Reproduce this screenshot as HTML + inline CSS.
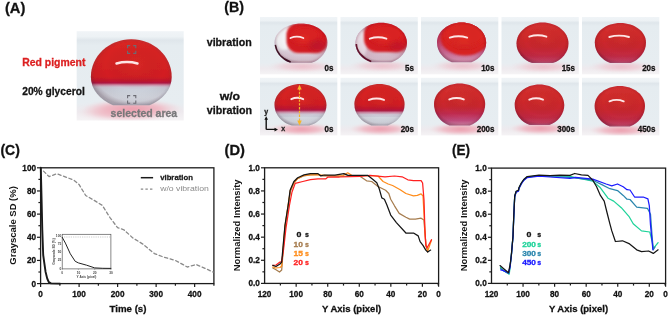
<!DOCTYPE html>
<html><head><meta charset="utf-8"><title>figure</title>
<style>
html,body{margin:0;padding:0;background:#fff;width:669px;height:316px;overflow:hidden;}
svg{display:block;will-change:transform;}
text{font-family:"Liberation Sans", sans-serif;}
</style></head>
<body>
<svg width="669" height="316" viewBox="0 0 669 316">
<defs>

<filter id="soft" x="-10%" y="-10%" width="120%" height="120%"><feGaussianBlur stdDeviation="0.45"/></filter>
<filter id="blur1" x="-30%" y="-30%" width="160%" height="160%"><feGaussianBlur stdDeviation="1.2"/></filter>
<filter id="blur2" x="-50%" y="-50%" width="200%" height="200%"><feGaussianBlur stdDeviation="2.2"/></filter>
<filter id="blur3" x="-50%" y="-50%" width="200%" height="200%"><feGaussianBlur stdDeviation="3.5"/></filter>
<linearGradient id="bgG" x1="0" y1="0" x2="0" y2="1">
 <stop offset="0" stop-color="#f0f4f7"/>
 <stop offset="0.06" stop-color="#edf2f5"/>
 <stop offset="0.1" stop-color="#dfe6eb"/>
 <stop offset="0.16" stop-color="#e5ecf0"/>
 <stop offset="0.8" stop-color="#e7edf1"/>
 <stop offset="0.9" stop-color="#eeeaee"/>
 <stop offset="1" stop-color="#f5f3f5"/>
</linearGradient>
<radialGradient id="pinkRef" cx="0.5" cy="0.5" r="0.5">
 <stop offset="0" stop-color="#ec9cac" stop-opacity="1"/>
 <stop offset="0.55" stop-color="#efb6c2" stop-opacity="0.85"/>
 <stop offset="1" stop-color="#f2d0d6" stop-opacity="0"/>
</radialGradient>
<radialGradient id="shadeG" cx="0.55" cy="0.4" r="0.6">
 <stop offset="0" stop-color="#ff6040" stop-opacity="0.12"/>
 <stop offset="0.6" stop-color="#000" stop-opacity="0"/>
 <stop offset="0.88" stop-color="#400818" stop-opacity="0.06"/>
 <stop offset="1" stop-color="#300818" stop-opacity="0.25"/>
</radialGradient>

</defs>
<clipPath id="t0"><rect x="260" y="17" width="77.3" height="57.3"/></clipPath>
<rect x="260" y="17" width="77.3" height="57.3" fill="url(#bgG)"/>
<clipPath id="t0e"><path d="M274.50,42.50 C274.50,32.01 286.36,23.50 301.00,23.50 C315.64,23.50 327.50,32.01 327.50,42.50 A26.50,22.15 0 0 1 311.60,62.80 L290.40,62.80 A26.50,22.15 0 0 1 274.50,42.50 Z"/></clipPath>
<g clip-path="url(#t0)"><ellipse cx="302" cy="66.39999999999999" rx="33.125" ry="5.895" fill="url(#pinkRef)" filter="url(#blur1)" opacity="0.55"/></g>
<defs><linearGradient id="t0g" gradientUnits="userSpaceOnUse" x1="0" y1="23.5" x2="0" y2="62.8"><stop offset="0.0000" stop-color="#e6e6ec"/><stop offset="0.5000" stop-color="#e2e0e8"/><stop offset="0.8000" stop-color="#dccbd8"/><stop offset="1.0000" stop-color="#d8c4d2"/></linearGradient></defs>
<g filter="url(#soft)">
<g clip-path="url(#t0e)">
<rect x="273.5" y="22.5" width="55.0" height="41.3" fill="url(#t0g)"/>
<ellipse cx="284" cy="37" rx="8.5" ry="13" fill="#f4f4f7" filter="url(#blur1)"/><rect x="286.5" y="23" width="41" height="30" rx="12" fill="#d61e22" filter="url(#blur1)"/><ellipse cx="305" cy="35" rx="15" ry="9" fill="#de2420" filter="url(#blur2)"/><ellipse cx="318" cy="46" rx="9" ry="6" fill="#b81830" opacity="0.6" filter="url(#blur2)"/><path d="M274.5,45 A26.5,22.15 0 0 0 290.4,62.8" fill="none" stroke="#3a1828" stroke-width="3.2" filter="url(#soft)"/>
<rect x="273.5" y="22.5" width="55.0" height="41.3" fill="url(#shadeG)"/>
<path d="M274.50,42.50 C274.50,32.01 286.36,23.50 301.00,23.50 C315.64,23.50 327.50,32.01 327.50,42.50 A26.50,22.15 0 0 1 311.60,62.80 L290.40,62.80 A26.50,22.15 0 0 1 274.50,42.50 Z" fill="none" stroke="#5a0c22" stroke-opacity="0.2" stroke-width="2.4" filter="url(#blur1)"/>
</g>
<path d="M290.5,38.0 Q296.9,35.2 303.3,38.0" fill="none" stroke="#fff0f0" stroke-width="1.9" stroke-linecap="round" opacity="0.95"/>
</g>
<text x="333.5" y="70.7" font-size="8.8" font-weight="bold" fill="#111" text-anchor="end" textLength="8.9" lengthAdjust="spacingAndGlyphs" stroke="#111" stroke-width="0.28">0s</text>
<clipPath id="t1"><rect x="340.5" y="17" width="77.3" height="57.3"/></clipPath>
<rect x="340.5" y="17" width="77.3" height="57.3" fill="url(#bgG)"/>
<clipPath id="t1e"><path d="M355.40,43.00 C355.40,31.79 366.95,22.70 381.20,22.70 C395.45,22.70 407.00,31.79 407.00,43.00 A25.80,21.06 0 0 1 391.52,62.30 L370.88,62.30 A25.80,21.06 0 0 1 355.40,43.00 Z"/></clipPath>
<g clip-path="url(#t1)"><ellipse cx="382.2" cy="65.89999999999999" rx="32.25" ry="5.939999999999999" fill="url(#pinkRef)" filter="url(#blur1)" opacity="0.55"/></g>
<defs><linearGradient id="t1g" gradientUnits="userSpaceOnUse" x1="0" y1="22.7" x2="0" y2="62.3"><stop offset="0.0000" stop-color="#d8c8d4"/><stop offset="0.5000" stop-color="#d4b4c6"/><stop offset="0.8000" stop-color="#d8bccc"/><stop offset="1.0000" stop-color="#dcc6d4"/></linearGradient></defs>
<g filter="url(#soft)">
<g clip-path="url(#t1e)">
<rect x="354.4" y="21.7" width="53.6" height="41.599999999999994" fill="url(#t1g)"/>
<ellipse cx="361" cy="44" rx="6" ry="14" fill="#ecdfe8" filter="url(#blur1)"/><rect x="364" y="21" width="45" height="31" rx="13" fill="#d61e22" filter="url(#blur1)"/><ellipse cx="386" cy="34" rx="17" ry="10" fill="#de2420" filter="url(#blur2)"/><ellipse cx="398" cy="47" rx="9" ry="5" fill="#b81830" opacity="0.5" filter="url(#blur2)"/><path d="M355.4,44 A25.8,21.06 0 0 0 370.9,62.3" fill="none" stroke="#6a1830" stroke-width="3.4" filter="url(#soft)"/>
<rect x="354.4" y="21.7" width="53.6" height="41.599999999999994" fill="url(#shadeG)"/>
<path d="M355.40,43.00 C355.40,31.79 366.95,22.70 381.20,22.70 C395.45,22.70 407.00,31.79 407.00,43.00 A25.80,21.06 0 0 1 391.52,62.30 L370.88,62.30 A25.80,21.06 0 0 1 355.40,43.00 Z" fill="none" stroke="#5a0c22" stroke-opacity="0.2" stroke-width="2.4" filter="url(#blur1)"/>
</g>
<path d="M369.8,38.699999999999996 Q378.1,35.9 386.4,38.699999999999996" fill="none" stroke="#fff0f0" stroke-width="1.9" stroke-linecap="round" opacity="0.95"/>
</g>
<text x="414.0" y="70.7" font-size="8.8" font-weight="bold" fill="#111" text-anchor="end" textLength="8.9" lengthAdjust="spacingAndGlyphs" stroke="#111" stroke-width="0.28">5s</text>
<clipPath id="t2"><rect x="421" y="17" width="77.3" height="57.3"/></clipPath>
<rect x="421" y="17" width="77.3" height="57.3" fill="url(#bgG)"/>
<clipPath id="t2e"><path d="M437.00,42.50 C437.00,31.40 448.01,22.40 461.60,22.40 C475.19,22.40 486.20,31.40 486.20,42.50 A24.60,21.60 0 0 1 471.44,62.30 L451.76,62.30 A24.60,21.60 0 0 1 437.00,42.50 Z"/></clipPath>
<g clip-path="url(#t2)"><ellipse cx="462.6" cy="65.89999999999999" rx="30.75" ry="5.984999999999999" fill="url(#pinkRef)" filter="url(#blur1)" opacity="0.55"/></g>
<defs><linearGradient id="t2g" gradientUnits="userSpaceOnUse" x1="0" y1="22.4" x2="0" y2="62.3"><stop offset="0.0000" stop-color="#d43040"/><stop offset="0.4500" stop-color="#c84068"/><stop offset="0.7500" stop-color="#cc6a94"/><stop offset="1.0000" stop-color="#dc9cbc"/></linearGradient></defs>
<g filter="url(#soft)">
<g clip-path="url(#t2e)">
<rect x="436.0" y="21.4" width="51.2" height="41.9" fill="url(#t2g)"/>
<ellipse cx="465" cy="38" rx="24.5" ry="17.5" fill="#d82024" filter="url(#blur1)"/>
<ellipse cx="465" cy="34.5" rx="19.6" ry="12.25" fill="#de2622" filter="url(#blur2)"/>

<rect x="436.0" y="21.4" width="51.2" height="41.9" fill="url(#shadeG)"/>
<path d="M437.00,42.50 C437.00,31.40 448.01,22.40 461.60,22.40 C475.19,22.40 486.20,31.40 486.20,42.50 A24.60,21.60 0 0 1 471.44,62.30 L451.76,62.30 A24.60,21.60 0 0 1 437.00,42.50 Z" fill="none" stroke="#5a0c22" stroke-opacity="0.2" stroke-width="2.4" filter="url(#blur1)"/>
</g>
<path d="M449.8,37.6 Q458.5,34.800000000000004 467.2,37.6" fill="none" stroke="#fff0f0" stroke-width="1.9" stroke-linecap="round" opacity="0.95"/>
</g>
<text x="494.5" y="70.7" font-size="8.8" font-weight="bold" fill="#111" text-anchor="end" textLength="13.350000000000001" lengthAdjust="spacingAndGlyphs" stroke="#111" stroke-width="0.28">10s</text>
<clipPath id="t3"><rect x="501.5" y="17" width="77.3" height="57.3"/></clipPath>
<rect x="501.5" y="17" width="77.3" height="57.3" fill="url(#bgG)"/>
<clipPath id="t3e"><path d="M516.50,43.50 C516.50,31.90 528.14,22.50 542.50,22.50 C556.86,22.50 568.50,31.90 568.50,43.50 A26.00,21.39 0 0 1 552.90,63.10 L532.10,63.10 A26.00,21.39 0 0 1 516.50,43.50 Z"/></clipPath>
<g clip-path="url(#t3)"><ellipse cx="543.5" cy="66.7" rx="32.5" ry="6.09" fill="url(#pinkRef)" filter="url(#blur1)" opacity="0.55"/></g>
<defs><linearGradient id="t3g" gradientUnits="userSpaceOnUse" x1="0" y1="22.5" x2="0" y2="63.1"><stop offset="0.0000" stop-color="#d63232"/><stop offset="0.3000" stop-color="#d02a2a"/><stop offset="0.6000" stop-color="#c8262e"/><stop offset="0.8200" stop-color="#c22a44"/><stop offset="0.9500" stop-color="#c64064"/><stop offset="1.0000" stop-color="#d06e90"/></linearGradient></defs>
<g filter="url(#soft)">
<g clip-path="url(#t3e)">
<rect x="515.5" y="21.5" width="54" height="42.6" fill="url(#t3g)"/>

<rect x="515.5" y="21.5" width="54" height="42.6" fill="url(#shadeG)"/>
<path d="M516.50,43.50 C516.50,31.90 528.14,22.50 542.50,22.50 C556.86,22.50 568.50,31.90 568.50,43.50 A26.00,21.39 0 0 1 552.90,63.10 L532.10,63.10 A26.00,21.39 0 0 1 516.50,43.50 Z" fill="none" stroke="#5a0c22" stroke-opacity="0.2" stroke-width="2.4" filter="url(#blur1)"/>
</g>
<path d="M529.3,36.699999999999996 Q537.8499999999999,33.9 546.4,36.699999999999996" fill="none" stroke="#fff0f0" stroke-width="1.9" stroke-linecap="round" opacity="0.95"/>
</g>
<text x="575.0" y="70.7" font-size="8.8" font-weight="bold" fill="#111" text-anchor="end" textLength="13.350000000000001" lengthAdjust="spacingAndGlyphs" stroke="#111" stroke-width="0.28">15s</text>
<clipPath id="t4"><rect x="582" y="17" width="77.3" height="57.3"/></clipPath>
<rect x="582" y="17" width="77.3" height="57.3" fill="url(#bgG)"/>
<clipPath id="t4e"><path d="M594.80,42.50 C594.80,31.73 606.26,23.00 620.40,23.00 C634.54,23.00 646.00,31.73 646.00,42.50 A25.60,22.48 0 0 1 630.64,63.10 L610.16,63.10 A25.60,22.48 0 0 1 594.80,42.50 Z"/></clipPath>
<g clip-path="url(#t4)"><ellipse cx="621.4" cy="66.7" rx="32.0" ry="6.015" fill="url(#pinkRef)" filter="url(#blur1)" opacity="0.55"/></g>
<defs><linearGradient id="t4g" gradientUnits="userSpaceOnUse" x1="0" y1="23" x2="0" y2="63.1"><stop offset="0.0000" stop-color="#d63232"/><stop offset="0.3000" stop-color="#d02a2a"/><stop offset="0.6000" stop-color="#c8262e"/><stop offset="0.8200" stop-color="#c22a44"/><stop offset="0.9500" stop-color="#c64064"/><stop offset="1.0000" stop-color="#d06e90"/></linearGradient></defs>
<g filter="url(#soft)">
<g clip-path="url(#t4e)">
<rect x="593.8" y="22" width="53.2" height="42.1" fill="url(#t4g)"/>

<rect x="593.8" y="22" width="53.2" height="42.1" fill="url(#shadeG)"/>
<path d="M594.80,42.50 C594.80,31.73 606.26,23.00 620.40,23.00 C634.54,23.00 646.00,31.73 646.00,42.50 A25.60,22.48 0 0 1 630.64,63.10 L610.16,63.10 A25.60,22.48 0 0 1 594.80,42.50 Z" fill="none" stroke="#5a0c22" stroke-opacity="0.2" stroke-width="2.4" filter="url(#blur1)"/>
</g>
<path d="M609.3,37.0 Q619.15,34.2 629,37.0" fill="none" stroke="#fff0f0" stroke-width="1.9" stroke-linecap="round" opacity="0.95"/>
</g>
<text x="655.5" y="70.7" font-size="8.8" font-weight="bold" fill="#111" text-anchor="end" textLength="13.350000000000001" lengthAdjust="spacingAndGlyphs" stroke="#111" stroke-width="0.28">20s</text>
<clipPath id="t5"><rect x="260" y="77.8" width="77.3" height="57.6"/></clipPath>
<rect x="260" y="77.8" width="77.3" height="57.6" fill="url(#bgG)"/>
<clipPath id="t5e"><path d="M274.50,105.00 C274.50,93.46 286.14,84.10 300.50,84.10 C314.86,84.10 326.50,93.46 326.50,105.00 A26.00,21.82 0 0 1 309.08,125.60 L291.92,125.60 A26.00,21.82 0 0 1 274.50,105.00 Z"/></clipPath>
<g clip-path="url(#t5)"><ellipse cx="301.5" cy="129.2" rx="32.5" ry="6.225" fill="url(#pinkRef)" filter="url(#blur1)" opacity="1.0"/></g>
<defs><linearGradient id="t5g" gradientUnits="userSpaceOnUse" x1="0" y1="84.1" x2="0" y2="125.6"><stop offset="0.0000" stop-color="#da2624"/><stop offset="0.4704" stop-color="#d21e22"/><stop offset="0.5789" stop-color="#c0162e"/><stop offset="0.6270" stop-color="#b01a44"/><stop offset="0.6752" stop-color="#cc8aa4"/><stop offset="0.7234" stop-color="#cdc6d4"/><stop offset="0.7837" stop-color="#cbd0da"/><stop offset="0.8072" stop-color="#d5dae2"/><stop offset="1.0000" stop-color="#d2d7e0"/></linearGradient></defs>
<g filter="url(#soft)">
<g clip-path="url(#t5e)">
<rect x="273.5" y="83.1" width="54" height="43.5" fill="url(#t5g)"/>

<rect x="273.5" y="83.1" width="54" height="43.5" fill="url(#shadeG)"/>
<path d="M274.50,105.00 C274.50,93.46 286.14,84.10 300.50,84.10 C314.86,84.10 326.50,93.46 326.50,105.00 A26.00,21.82 0 0 1 309.08,125.60 L291.92,125.60 A26.00,21.82 0 0 1 274.50,105.00 Z" fill="none" stroke="#50505e" stroke-opacity="0.2" stroke-width="2.4" filter="url(#blur1)"/>
</g>
<path d="M291.3,99.2 Q297.25,96.39999999999999 303.2,99.2" fill="none" stroke="#fff0f0" stroke-width="1.9" stroke-linecap="round" opacity="0.95"/>
</g>
<text x="333.5" y="131.8" font-size="8.8" font-weight="bold" fill="#111" text-anchor="end" textLength="8.9" lengthAdjust="spacingAndGlyphs" stroke="#111" stroke-width="0.28">0s</text>
<clipPath id="t6"><rect x="340.5" y="77.8" width="77.3" height="57.6"/></clipPath>
<rect x="340.5" y="77.8" width="77.3" height="57.6" fill="url(#bgG)"/>
<clipPath id="t6e"><path d="M354.40,104.00 C354.40,92.95 365.64,84.00 379.50,84.00 C393.36,84.00 404.60,92.95 404.60,104.00 A25.10,22.67 0 0 1 387.78,125.40 L371.22,125.40 A25.10,22.67 0 0 1 354.40,104.00 Z"/></clipPath>
<g clip-path="url(#t6)"><ellipse cx="380.5" cy="129.0" rx="31.375" ry="6.210000000000001" fill="url(#pinkRef)" filter="url(#blur1)" opacity="1.0"/></g>
<defs><linearGradient id="t6g" gradientUnits="userSpaceOnUse" x1="0" y1="84" x2="0" y2="125.4"><stop offset="0.0000" stop-color="#da2624"/><stop offset="0.4851" stop-color="#d21e22"/><stop offset="0.5938" stop-color="#c0162e"/><stop offset="0.6421" stop-color="#b01a44"/><stop offset="0.6904" stop-color="#cc8aa4"/><stop offset="0.7387" stop-color="#cdc6d4"/><stop offset="0.7991" stop-color="#cbd0da"/><stop offset="0.8068" stop-color="#d5dae2"/><stop offset="1.0000" stop-color="#d2d7e0"/></linearGradient></defs>
<g filter="url(#soft)">
<g clip-path="url(#t6e)">
<rect x="353.4" y="83" width="52.2" height="43.400000000000006" fill="url(#t6g)"/>

<rect x="353.4" y="83" width="52.2" height="43.400000000000006" fill="url(#shadeG)"/>
<path d="M354.40,104.00 C354.40,92.95 365.64,84.00 379.50,84.00 C393.36,84.00 404.60,92.95 404.60,104.00 A25.10,22.67 0 0 1 387.78,125.40 L371.22,125.40 A25.10,22.67 0 0 1 354.40,104.00 Z" fill="none" stroke="#50505e" stroke-opacity="0.2" stroke-width="2.4" filter="url(#blur1)"/>
</g>
<path d="M369,99.9 Q376.5,97.1 384,99.9" fill="none" stroke="#fff0f0" stroke-width="1.9" stroke-linecap="round" opacity="0.95"/>
</g>
<text x="414.0" y="131.8" font-size="8.8" font-weight="bold" fill="#111" text-anchor="end" textLength="13.350000000000001" lengthAdjust="spacingAndGlyphs" stroke="#111" stroke-width="0.28">20s</text>
<clipPath id="t7"><rect x="421" y="77.8" width="77.3" height="57.6"/></clipPath>
<rect x="421" y="77.8" width="77.3" height="57.6" fill="url(#bgG)"/>
<clipPath id="t7e"><path d="M434.00,104.00 C434.00,92.68 445.46,83.50 459.60,83.50 C473.74,83.50 485.20,92.68 485.20,104.00 A25.60,23.57 0 0 1 469.84,125.60 L449.36,125.60 A25.60,23.57 0 0 1 434.00,104.00 Z"/></clipPath>
<g clip-path="url(#t7)"><ellipse cx="460.6" cy="129.2" rx="32.0" ry="6.314999999999999" fill="url(#pinkRef)" filter="url(#blur1)" opacity="1.0"/></g>
<defs><linearGradient id="t7g" gradientUnits="userSpaceOnUse" x1="0" y1="83.5" x2="0" y2="125.6"><stop offset="0.0000" stop-color="#d63232"/><stop offset="0.3000" stop-color="#d02a2a"/><stop offset="0.5500" stop-color="#c8262e"/><stop offset="0.7200" stop-color="#c02c50"/><stop offset="0.8800" stop-color="#c44e80"/><stop offset="1.0000" stop-color="#d68cb0"/></linearGradient></defs>
<g filter="url(#soft)">
<g clip-path="url(#t7e)">
<rect x="433.0" y="82.5" width="53.2" height="44.099999999999994" fill="url(#t7g)"/>

<rect x="433.0" y="82.5" width="53.2" height="44.099999999999994" fill="url(#shadeG)"/>
<path d="M434.00,104.00 C434.00,92.68 445.46,83.50 459.60,83.50 C473.74,83.50 485.20,92.68 485.20,104.00 A25.60,23.57 0 0 1 469.84,125.60 L449.36,125.60 A25.60,23.57 0 0 1 434.00,104.00 Z" fill="none" stroke="#5a0c22" stroke-opacity="0.2" stroke-width="2.4" filter="url(#blur1)"/>
</g>
<path d="M449.3,99.4 Q456.55,96.6 463.8,99.4" fill="none" stroke="#fff0f0" stroke-width="1.9" stroke-linecap="round" opacity="0.95"/>
</g>
<text x="494.5" y="131.8" font-size="8.8" font-weight="bold" fill="#111" text-anchor="end" textLength="17.8" lengthAdjust="spacingAndGlyphs" stroke="#111" stroke-width="0.28">200s</text>
<clipPath id="t8"><rect x="501.5" y="77.8" width="77.3" height="57.6"/></clipPath>
<rect x="501.5" y="77.8" width="77.3" height="57.6" fill="url(#bgG)"/>
<clipPath id="t8e"><path d="M514.70,105.00 C514.70,93.68 525.80,84.50 539.50,84.50 C553.20,84.50 564.30,93.68 564.30,105.00 A24.80,21.71 0 0 1 549.42,124.90 L529.58,124.90 A24.80,21.71 0 0 1 514.70,105.00 Z"/></clipPath>
<g clip-path="url(#t8)"><ellipse cx="540.5" cy="128.5" rx="31.0" ry="6.0600000000000005" fill="url(#pinkRef)" filter="url(#blur1)" opacity="1.0"/></g>
<defs><linearGradient id="t8g" gradientUnits="userSpaceOnUse" x1="0" y1="84.5" x2="0" y2="124.9"><stop offset="0.0000" stop-color="#d63232"/><stop offset="0.3000" stop-color="#d02a2a"/><stop offset="0.6000" stop-color="#c8262e"/><stop offset="0.8200" stop-color="#c22a44"/><stop offset="0.9500" stop-color="#c64064"/><stop offset="1.0000" stop-color="#d06e90"/></linearGradient></defs>
<g filter="url(#soft)">
<g clip-path="url(#t8e)">
<rect x="513.7" y="83.5" width="51.6" height="42.400000000000006" fill="url(#t8g)"/>

<rect x="513.7" y="83.5" width="51.6" height="42.400000000000006" fill="url(#shadeG)"/>
<path d="M514.70,105.00 C514.70,93.68 525.80,84.50 539.50,84.50 C553.20,84.50 564.30,93.68 564.30,105.00 A24.80,21.71 0 0 1 549.42,124.90 L529.58,124.90 A24.80,21.71 0 0 1 514.70,105.00 Z" fill="none" stroke="#5a0c22" stroke-opacity="0.2" stroke-width="2.4" filter="url(#blur1)"/>
</g>
<path d="M529.3,99.7 Q536.15,96.89999999999999 543,99.7" fill="none" stroke="#fff0f0" stroke-width="1.9" stroke-linecap="round" opacity="0.95"/>
</g>
<text x="575.0" y="131.8" font-size="8.8" font-weight="bold" fill="#111" text-anchor="end" textLength="17.8" lengthAdjust="spacingAndGlyphs" stroke="#111" stroke-width="0.28">300s</text>
<clipPath id="t9"><rect x="582" y="77.8" width="77.3" height="57.6"/></clipPath>
<rect x="582" y="77.8" width="77.3" height="57.6" fill="url(#bgG)"/>
<clipPath id="t9e"><path d="M594.60,106.00 C594.60,94.90 605.88,85.90 619.80,85.90 C633.72,85.90 645.00,94.90 645.00,106.00 A25.20,22.48 0 0 1 629.88,126.60 L609.72,126.60 A25.20,22.48 0 0 1 594.60,106.00 Z"/></clipPath>
<g clip-path="url(#t9)"><ellipse cx="620.8" cy="130.2" rx="31.5" ry="6.104999999999998" fill="url(#pinkRef)" filter="url(#blur1)" opacity="1.0"/></g>
<defs><linearGradient id="t9g" gradientUnits="userSpaceOnUse" x1="0" y1="85.9" x2="0" y2="126.6"><stop offset="0.0000" stop-color="#d63232"/><stop offset="0.3000" stop-color="#d02a2a"/><stop offset="0.6000" stop-color="#c8262e"/><stop offset="0.8200" stop-color="#c22a44"/><stop offset="0.9500" stop-color="#c64064"/><stop offset="1.0000" stop-color="#d06e90"/></linearGradient></defs>
<g filter="url(#soft)">
<g clip-path="url(#t9e)">
<rect x="593.5999999999999" y="84.9" width="52.4" height="42.69999999999999" fill="url(#t9g)"/>

<rect x="593.5999999999999" y="84.9" width="52.4" height="42.69999999999999" fill="url(#shadeG)"/>
<path d="M594.60,106.00 C594.60,94.90 605.88,85.90 619.80,85.90 C633.72,85.90 645.00,94.90 645.00,106.00 A25.20,22.48 0 0 1 629.88,126.60 L609.72,126.60 A25.20,22.48 0 0 1 594.60,106.00 Z" fill="none" stroke="#5a0c22" stroke-opacity="0.2" stroke-width="2.4" filter="url(#blur1)"/>
</g>
<path d="M609.5,101.30000000000001 Q616.6,98.5 623.7,101.30000000000001" fill="none" stroke="#fff0f0" stroke-width="1.9" stroke-linecap="round" opacity="0.95"/>
</g>
<text x="655.5" y="131.8" font-size="8.8" font-weight="bold" fill="#111" text-anchor="end" textLength="17.8" lengthAdjust="spacingAndGlyphs" stroke="#111" stroke-width="0.28">450s</text>
<clipPath id="tA"><rect x="76.7" y="31.2" width="107" height="89.3"/></clipPath>
<rect x="76.7" y="31.2" width="107" height="89.3" fill="url(#bgG)"/>
<g clip-path="url(#tA)"><ellipse cx="126" cy="112.5" rx="48" ry="8" fill="url(#pinkRef)" filter="url(#blur2)"/></g>
<clipPath id="tAe"><path d="M90.90,77.00 C90.90,56.18 108.99,39.30 131.30,39.30 C153.61,39.30 171.70,56.18 171.70,77.00 A40.40,31.58 0 0 1 149.48,105.20 L113.12,105.20 A40.40,31.58 0 0 1 90.90,77.00 Z"/></clipPath>
<g clip-path="url(#tA)"><ellipse cx="132.3" cy="108.8" rx="50.5" ry="9.885" fill="url(#pinkRef)" filter="url(#blur1)" opacity="1.0"/></g>
<defs><linearGradient id="tAg" gradientUnits="userSpaceOnUse" x1="0" y1="39.3" x2="0" y2="105.2"><stop offset="0.0000" stop-color="#da2624"/><stop offset="0.5640" stop-color="#d21e22"/><stop offset="0.6322" stop-color="#c0162e"/><stop offset="0.6626" stop-color="#b01a44"/><stop offset="0.6929" stop-color="#cc8aa4"/><stop offset="0.7233" stop-color="#cdc6d4"/><stop offset="0.7612" stop-color="#cbd0da"/><stop offset="0.8786" stop-color="#d5dae2"/><stop offset="1.0000" stop-color="#d2d7e0"/></linearGradient></defs>
<g filter="url(#soft)">
<g clip-path="url(#tAe)">
<rect x="89.9" y="38.3" width="82.8" height="67.9" fill="url(#tAg)"/>

<rect x="89.9" y="38.3" width="82.8" height="67.9" fill="url(#shadeG)"/>
<path d="M90.90,77.00 C90.90,56.18 108.99,39.30 131.30,39.30 C153.61,39.30 171.70,56.18 171.70,77.00 A40.40,31.58 0 0 1 149.48,105.20 L113.12,105.20 A40.40,31.58 0 0 1 90.90,77.00 Z" fill="none" stroke="#50505e" stroke-opacity="0.2" stroke-width="2.4" filter="url(#blur1)"/>
</g>
<path d="M116.5,63.5 Q127.0,60.7 137.5,63.5" fill="none" stroke="#fff0f0" stroke-width="2.5" stroke-linecap="round" opacity="0.95"/>
</g>
<path d="M127.6,48.2 L127.6,45.6 L130.2,45.6 M133.2,45.6 L135.79999999999998,45.6 L135.79999999999998,48.2 M135.79999999999998,50.8 L135.79999999999998,53.4 L133.2,53.4 M130.2,53.4 L127.6,53.4 L127.6,50.8" fill="none" stroke="#6c6c74" stroke-width="1.1"/>
<path d="M127.6,98.19999999999999 L127.6,95.6 L130.2,95.6 M133.2,95.6 L135.79999999999998,95.6 L135.79999999999998,98.19999999999999 M135.79999999999998,100.6 L135.79999999999998,103.19999999999999 L133.2,103.19999999999999 M130.2,103.19999999999999 L127.6,103.19999999999999 L127.6,100.6" fill="none" stroke="#6c6c74" stroke-width="1.1"/>
<text x="110.6" y="116.9" font-size="10.5" font-weight="bold" fill="#78787a" text-anchor="start" textLength="66.6" lengthAdjust="spacingAndGlyphs" stroke="#78787a" stroke-width="0.28">selected area</text>
<line x1="299.5" y1="88" x2="299.5" y2="122" stroke="#f7b52a" stroke-width="1.2" stroke-dasharray="2.4,1.4"/>
<path d="M297.3,89.5 L299.5,84.7 L301.7,89.5 Z" fill="#f7b52a"/><path d="M297.3,120.5 L299.5,125.6 L301.7,120.5 Z" fill="#f7b52a"/>
<path d="M266.2,129.4 L266.2,118.5 M266.2,129.4 L275.5,129.4" stroke="#111" stroke-width="1.4" fill="none"/>
<path d="M264.4,119.8 L266.2,116.3 L268,119.8 Z M274.5,127.8 L278,129.6 L274.5,131.4 Z" fill="#111"/>
<text x="266.2" y="113.6" font-size="7" font-weight="bold" fill="#222" text-anchor="middle" stroke="#222" stroke-width="0.28">y</text>
<text x="283.2" y="131.4" font-size="7" font-weight="bold" fill="#222" text-anchor="middle" stroke="#222" stroke-width="0.28">x</text>
<text x="4.9" y="13.1" font-size="14.5" font-weight="bold" fill="#111" text-anchor="start" textLength="20.4" lengthAdjust="spacingAndGlyphs" stroke="#111" stroke-width="0.28">(A)</text>
<text x="224.3" y="12.2" font-size="14.5" font-weight="bold" fill="#111" text-anchor="start" textLength="19.8" lengthAdjust="spacingAndGlyphs" stroke="#111" stroke-width="0.28">(B)</text>
<text x="0.4" y="155" font-size="14.5" font-weight="bold" fill="#111" text-anchor="start" textLength="19.4" lengthAdjust="spacingAndGlyphs" stroke="#111" stroke-width="0.28">(C)</text>
<text x="224.5" y="154.6" font-size="14.5" font-weight="bold" fill="#111" text-anchor="start" textLength="20.4" lengthAdjust="spacingAndGlyphs" stroke="#111" stroke-width="0.28">(D)</text>
<text x="452.1" y="154.6" font-size="14.5" font-weight="bold" fill="#111" text-anchor="start" textLength="18" lengthAdjust="spacingAndGlyphs" stroke="#111" stroke-width="0.28">(E)</text>
<text x="22.2" y="65.6" font-size="10.4" font-weight="bold" fill="#dc1f20" text-anchor="start" textLength="63.2" lengthAdjust="spacingAndGlyphs" stroke="#dc1f20" stroke-width="0.28">Red pigment</text>
<text x="22.2" y="95" font-size="10.4" font-weight="bold" fill="#141414" text-anchor="start" textLength="62.6" lengthAdjust="spacingAndGlyphs" stroke="#141414" stroke-width="0.28">20% glycerol</text>
<text x="206.7" y="45.6" font-size="10.6" font-weight="bold" fill="#141414" text-anchor="start" textLength="45.1" lengthAdjust="spacingAndGlyphs" stroke="#141414" stroke-width="0.28">vibration</text>
<text x="229.9" y="100" font-size="10.6" font-weight="bold" fill="#141414" text-anchor="middle" textLength="20.5" lengthAdjust="spacingAndGlyphs" stroke="#141414" stroke-width="0.28">w/o</text>
<text x="206.8" y="114.2" font-size="10.6" font-weight="bold" fill="#141414" text-anchor="start" textLength="45.2" lengthAdjust="spacingAndGlyphs" stroke="#141414" stroke-width="0.28">vibration</text>
<rect x="40.6" y="167.8" width="173.3" height="115.80000000000001" fill="none" stroke="#1c1c1c" stroke-width="1.3"/>
<line x1="37.0" y1="283.60" x2="40.6" y2="283.60" stroke="#1c1c1c" stroke-width="1.2"/>
<line x1="38.4" y1="272.02" x2="40.6" y2="272.02" stroke="#1c1c1c" stroke-width="1.2"/>
<line x1="37.0" y1="260.44" x2="40.6" y2="260.44" stroke="#1c1c1c" stroke-width="1.2"/>
<line x1="38.4" y1="248.86" x2="40.6" y2="248.86" stroke="#1c1c1c" stroke-width="1.2"/>
<line x1="37.0" y1="237.28" x2="40.6" y2="237.28" stroke="#1c1c1c" stroke-width="1.2"/>
<line x1="38.4" y1="225.70" x2="40.6" y2="225.70" stroke="#1c1c1c" stroke-width="1.2"/>
<line x1="37.0" y1="214.12" x2="40.6" y2="214.12" stroke="#1c1c1c" stroke-width="1.2"/>
<line x1="38.4" y1="202.54" x2="40.6" y2="202.54" stroke="#1c1c1c" stroke-width="1.2"/>
<line x1="37.0" y1="190.96" x2="40.6" y2="190.96" stroke="#1c1c1c" stroke-width="1.2"/>
<line x1="38.4" y1="179.38" x2="40.6" y2="179.38" stroke="#1c1c1c" stroke-width="1.2"/>
<line x1="37.0" y1="167.80" x2="40.6" y2="167.80" stroke="#1c1c1c" stroke-width="1.2"/>
<line x1="40.60" y1="283.6" x2="40.60" y2="287.0" stroke="#1c1c1c" stroke-width="1.2"/>
<line x1="59.86" y1="283.6" x2="59.86" y2="285.8" stroke="#1c1c1c" stroke-width="1.2"/>
<line x1="79.11" y1="283.6" x2="79.11" y2="287.0" stroke="#1c1c1c" stroke-width="1.2"/>
<line x1="98.37" y1="283.6" x2="98.37" y2="285.8" stroke="#1c1c1c" stroke-width="1.2"/>
<line x1="117.62" y1="283.6" x2="117.62" y2="287.0" stroke="#1c1c1c" stroke-width="1.2"/>
<line x1="136.88" y1="283.6" x2="136.88" y2="285.8" stroke="#1c1c1c" stroke-width="1.2"/>
<line x1="156.13" y1="283.6" x2="156.13" y2="287.0" stroke="#1c1c1c" stroke-width="1.2"/>
<line x1="175.39" y1="283.6" x2="175.39" y2="285.8" stroke="#1c1c1c" stroke-width="1.2"/>
<line x1="194.64" y1="283.6" x2="194.64" y2="287.0" stroke="#1c1c1c" stroke-width="1.2"/>
<line x1="213.90" y1="283.6" x2="213.90" y2="285.8" stroke="#1c1c1c" stroke-width="1.2"/>
<text x="36" y="286.5" font-size="8.2" font-weight="bold" fill="#111" text-anchor="end" stroke="#111" stroke-width="0.28">0</text>
<text x="36" y="263.34" font-size="8.2" font-weight="bold" fill="#111" text-anchor="end" stroke="#111" stroke-width="0.28">20</text>
<text x="36" y="240.18000000000004" font-size="8.2" font-weight="bold" fill="#111" text-anchor="end" stroke="#111" stroke-width="0.28">40</text>
<text x="36" y="217.02" font-size="8.2" font-weight="bold" fill="#111" text-anchor="end" stroke="#111" stroke-width="0.28">60</text>
<text x="36" y="193.86000000000004" font-size="8.2" font-weight="bold" fill="#111" text-anchor="end" stroke="#111" stroke-width="0.28">80</text>
<text x="36" y="170.70000000000002" font-size="8.2" font-weight="bold" fill="#111" text-anchor="end" stroke="#111" stroke-width="0.28">100</text>
<text x="40.6" y="296.7" font-size="8.2" font-weight="bold" fill="#111" text-anchor="middle" stroke="#111" stroke-width="0.28">0</text>
<text x="79.11111111111111" y="296.7" font-size="8.2" font-weight="bold" fill="#111" text-anchor="middle" stroke="#111" stroke-width="0.28">100</text>
<text x="117.62222222222223" y="296.7" font-size="8.2" font-weight="bold" fill="#111" text-anchor="middle" stroke="#111" stroke-width="0.28">200</text>
<text x="156.13333333333333" y="296.7" font-size="8.2" font-weight="bold" fill="#111" text-anchor="middle" stroke="#111" stroke-width="0.28">300</text>
<text x="194.64444444444445" y="296.7" font-size="8.2" font-weight="bold" fill="#111" text-anchor="middle" stroke="#111" stroke-width="0.28">400</text>
<text x="128" y="311.6" font-size="9.5" font-weight="bold" fill="#111" text-anchor="middle" textLength="37" lengthAdjust="spacingAndGlyphs" stroke="#111" stroke-width="0.28">Time (s)</text>
<text transform="translate(15.6,225.4) rotate(-90)" font-size="9.8" font-weight="bold" fill="#141414" text-anchor="middle" textLength="78.5" lengthAdjust="spacingAndGlyphs">Grayscale SD (%)</text>
<polyline points="43.5,171.1 49.1,176.6 56.8,173.7 64.6,176.6 73.5,180.0 79.0,184.4 85.7,195.5 93.4,199.9 102.3,205.4 110.0,217.6 117.6,227.7 123.9,229.8 132.8,237.9 143.0,244.2 154.4,253.6 163.2,256.9 175.9,260.7 187.3,267.0 196.2,264.5 205.0,268.3 213.2,272.1" fill="none" stroke="#8a8a8a" stroke-width="1.3" stroke-linejoin="round" stroke-linecap="round" stroke-dasharray="3.2,2.6"/>
<polyline points="40.8,167.8 41.6,200.0 42.3,230.0 43.2,255.0 44.3,263.0 45.6,272.0 47.2,278.5 48.8,282.2 51.0,283.4 60.0,283.6" fill="none" stroke="#1a1a1a" stroke-width="1.9" stroke-linejoin="round" stroke-linecap="round"/>
<line x1="140.8" y1="177.7" x2="153.1" y2="177.7" stroke="#1a1a1a" stroke-width="1.5"/>
<line x1="140.8" y1="189.1" x2="153.1" y2="189.1" stroke="#8a8a8a" stroke-width="1.2" stroke-dasharray="2.4,2.2"/>
<text x="160.2" y="180.2" font-size="7.8" font-weight="bold" fill="#1a1a1a" text-anchor="start" textLength="32.7" lengthAdjust="spacingAndGlyphs" stroke="#1a1a1a" stroke-width="0.28">vibration</text>
<text x="160.2" y="191.2" font-size="7.8" font-weight="normal" fill="#8a8a8a" text-anchor="start" textLength="48.6" lengthAdjust="spacingAndGlyphs">w/o vibration</text>
<rect x="62.2" y="234.3" width="48.7" height="34.599999999999966" fill="#fff" stroke="#555" stroke-width="0.7"/>
<line x1="62.2" y1="237.0" x2="110.9" y2="237.0" stroke="#999" stroke-width="0.6" stroke-dasharray="0.8,1"/>
<polyline points="62.2,237.3 65.4,243.1 70.3,253.8 75.2,261.3 78.4,262.9 86.6,265.2 94.7,267.9 102.8,268.3 110.9,268.4" fill="none" stroke="#222" stroke-width="1.0" stroke-linejoin="round" stroke-linecap="round"/>
<line x1="62.2" y1="268.9" x2="62.2" y2="270.09999999999997" stroke="#777" stroke-width="0.5"/>
<text x="62.2" y="273.6" font-size="3.2" font-weight="bold" fill="#444" text-anchor="middle">0</text>
<line x1="78.4" y1="268.9" x2="78.4" y2="270.09999999999997" stroke="#777" stroke-width="0.5"/>
<text x="78.43333333333334" y="273.6" font-size="3.2" font-weight="bold" fill="#444" text-anchor="middle">10</text>
<line x1="94.7" y1="268.9" x2="94.7" y2="270.09999999999997" stroke="#777" stroke-width="0.5"/>
<text x="94.66666666666667" y="273.6" font-size="3.2" font-weight="bold" fill="#444" text-anchor="middle">20</text>
<line x1="110.9" y1="268.9" x2="110.9" y2="270.09999999999997" stroke="#777" stroke-width="0.5"/>
<text x="110.9" y="273.6" font-size="3.2" font-weight="bold" fill="#444" text-anchor="middle">30</text>
<text x="61.2" y="269.5" font-size="3.2" font-weight="bold" fill="#444" text-anchor="end">0</text>
<text x="61.2" y="261.40000000000003" font-size="3.2" font-weight="bold" fill="#444" text-anchor="end">25</text>
<text x="61.2" y="253.29999999999998" font-size="3.2" font-weight="bold" fill="#444" text-anchor="end">50</text>
<text x="61.2" y="245.2" font-size="3.2" font-weight="bold" fill="#444" text-anchor="end">75</text>
<text x="61.2" y="237.1" font-size="3.2" font-weight="bold" fill="#444" text-anchor="end">100</text>
<text x="86.5" y="277.8" font-size="3.2" font-weight="bold" fill="#444" text-anchor="middle">Y Axis (pixel)</text>
<text transform="translate(55,251.5) rotate(-90)" font-size="3.2" font-weight="bold" fill="#444" text-anchor="middle">Grayscale SD (%)</text>
<rect x="264.6" y="167.8" width="174.0" height="115.59999999999997" fill="none" stroke="#1c1c1c" stroke-width="1.3"/>
<line x1="261.0" y1="283.40" x2="264.6" y2="283.40" stroke="#1c1c1c" stroke-width="1.2"/>
<line x1="262.40000000000003" y1="271.84" x2="264.6" y2="271.84" stroke="#1c1c1c" stroke-width="1.2"/>
<line x1="261.0" y1="260.28" x2="264.6" y2="260.28" stroke="#1c1c1c" stroke-width="1.2"/>
<line x1="262.40000000000003" y1="248.72" x2="264.6" y2="248.72" stroke="#1c1c1c" stroke-width="1.2"/>
<line x1="261.0" y1="237.16" x2="264.6" y2="237.16" stroke="#1c1c1c" stroke-width="1.2"/>
<line x1="262.40000000000003" y1="225.60" x2="264.6" y2="225.60" stroke="#1c1c1c" stroke-width="1.2"/>
<line x1="261.0" y1="214.04" x2="264.6" y2="214.04" stroke="#1c1c1c" stroke-width="1.2"/>
<line x1="262.40000000000003" y1="202.48" x2="264.6" y2="202.48" stroke="#1c1c1c" stroke-width="1.2"/>
<line x1="261.0" y1="190.92" x2="264.6" y2="190.92" stroke="#1c1c1c" stroke-width="1.2"/>
<line x1="262.40000000000003" y1="179.36" x2="264.6" y2="179.36" stroke="#1c1c1c" stroke-width="1.2"/>
<line x1="261.0" y1="167.80" x2="264.6" y2="167.80" stroke="#1c1c1c" stroke-width="1.2"/>
<line x1="280.38" y1="283.4" x2="280.38" y2="285.59999999999997" stroke="#1c1c1c" stroke-width="1.2"/>
<line x1="296.16" y1="283.4" x2="296.16" y2="286.79999999999995" stroke="#1c1c1c" stroke-width="1.2"/>
<line x1="311.94" y1="283.4" x2="311.94" y2="285.59999999999997" stroke="#1c1c1c" stroke-width="1.2"/>
<line x1="327.72" y1="283.4" x2="327.72" y2="286.79999999999995" stroke="#1c1c1c" stroke-width="1.2"/>
<line x1="343.50" y1="283.4" x2="343.50" y2="285.59999999999997" stroke="#1c1c1c" stroke-width="1.2"/>
<line x1="359.28" y1="283.4" x2="359.28" y2="286.79999999999995" stroke="#1c1c1c" stroke-width="1.2"/>
<line x1="375.06" y1="283.4" x2="375.06" y2="285.59999999999997" stroke="#1c1c1c" stroke-width="1.2"/>
<line x1="390.84" y1="283.4" x2="390.84" y2="286.79999999999995" stroke="#1c1c1c" stroke-width="1.2"/>
<line x1="406.62" y1="283.4" x2="406.62" y2="285.59999999999997" stroke="#1c1c1c" stroke-width="1.2"/>
<line x1="422.40" y1="283.4" x2="422.40" y2="286.79999999999995" stroke="#1c1c1c" stroke-width="1.2"/>
<line x1="438.18" y1="283.4" x2="438.18" y2="285.59999999999997" stroke="#1c1c1c" stroke-width="1.2"/>
<line x1="438.6" y1="283.4" x2="438.6" y2="286.79999999999995" stroke="#1c1c1c" stroke-width="1.2"/>
<text x="259.8" y="286.29999999999995" font-size="8.2" font-weight="bold" fill="#111" text-anchor="end" stroke="#111" stroke-width="0.28">0.0</text>
<text x="259.8" y="263.17999999999995" font-size="8.2" font-weight="bold" fill="#111" text-anchor="end" stroke="#111" stroke-width="0.28">0.2</text>
<text x="259.8" y="240.06" font-size="8.2" font-weight="bold" fill="#111" text-anchor="end" stroke="#111" stroke-width="0.28">0.4</text>
<text x="259.8" y="216.94000000000003" font-size="8.2" font-weight="bold" fill="#111" text-anchor="end" stroke="#111" stroke-width="0.28">0.6</text>
<text x="259.8" y="193.82000000000002" font-size="8.2" font-weight="bold" fill="#111" text-anchor="end" stroke="#111" stroke-width="0.28">0.8</text>
<text x="259.8" y="170.70000000000002" font-size="8.2" font-weight="bold" fill="#111" text-anchor="end" stroke="#111" stroke-width="0.28">1.0</text>
<text x="264.6" y="296.7" font-size="8.2" font-weight="bold" fill="#111" text-anchor="middle" stroke="#111" stroke-width="0.28">120</text>
<text x="296.16" y="296.7" font-size="8.2" font-weight="bold" fill="#111" text-anchor="middle" stroke="#111" stroke-width="0.28">100</text>
<text x="327.72" y="296.7" font-size="8.2" font-weight="bold" fill="#111" text-anchor="middle" stroke="#111" stroke-width="0.28">80</text>
<text x="359.28000000000003" y="296.7" font-size="8.2" font-weight="bold" fill="#111" text-anchor="middle" stroke="#111" stroke-width="0.28">60</text>
<text x="390.84000000000003" y="296.7" font-size="8.2" font-weight="bold" fill="#111" text-anchor="middle" stroke="#111" stroke-width="0.28">40</text>
<text x="422.40000000000003" y="296.7" font-size="8.2" font-weight="bold" fill="#111" text-anchor="middle" stroke="#111" stroke-width="0.28">20</text>
<text x="438.6" y="296.7" font-size="8.2" font-weight="bold" fill="#111" text-anchor="middle" stroke="#111" stroke-width="0.28">0</text>
<text x="351.6" y="311.8" font-size="9.5" font-weight="bold" fill="#111" text-anchor="middle" textLength="59.3" lengthAdjust="spacingAndGlyphs" stroke="#111" stroke-width="0.28">Y Axis (pixel)</text>
<text transform="translate(240.1,225.4) rotate(-90)" font-size="9.8" font-weight="bold" fill="#141414" text-anchor="middle" textLength="91.8" lengthAdjust="spacingAndGlyphs">Normalized Intensity</text>
<polyline points="272.8,268.0 276.0,269.7 279.5,272.0 281.7,270.0 283.2,250.0 285.0,228.0 288.0,207.0 290.5,191.0 294.0,183.0 297.0,179.0 304.0,175.8 310.0,174.8 318.0,174.5 322.0,175.8 335.0,176.2 360.3,176.4 366.6,180.8 371.7,181.5 378.0,186.5 385.6,190.3 388.8,193.5 390.7,199.2 394.5,205.8 399.2,213.4 405.9,217.2 409.7,219.1 415.4,219.1 421.1,218.2 423.9,220.0 426.0,245.0 427.7,252.0" fill="none" stroke="#a67c4e" stroke-width="1.25" stroke-linejoin="round" stroke-linecap="round"/>
<polyline points="272.8,267.0 276.0,268.0 280.0,267.5 281.7,266.0 283.2,248.0 285.0,226.0 288.0,206.0 290.3,190.5 294.0,182.5 297.5,178.5 304.0,175.5 310.0,174.8 318.0,174.8 335.0,176.0 343.0,175.5 347.7,172.8 352.0,175.5 378.0,176.0 383.1,181.5 388.2,184.0 392.6,185.5 400.2,189.7 405.9,193.5 413.5,195.8 417.3,195.4 421.1,193.9 423.0,196.0 424.9,230.0 425.8,245.4 427.7,251.0 431.5,240.0" fill="none" stroke="#ff8c1a" stroke-width="1.25" stroke-linejoin="round" stroke-linecap="round"/>
<polyline points="272.8,265.3 276.0,265.0 280.0,262.0 281.7,261.5 283.5,250.0 286.0,228.0 289.5,205.0 292.0,192.0 295.2,183.4 302.8,181.5 310.4,179.6 318.0,178.9 325.6,178.9 328.0,177.0 339.5,177.0 360.0,176.4 370.0,175.4 385.0,176.8 394.5,176.0 402.1,176.8 407.8,179.8 413.5,180.6 421.1,180.6 422.6,183.0 424.0,200.0 424.9,230.0 425.8,245.0 427.0,248.0 431.5,239.7" fill="none" stroke="#ff2020" stroke-width="1.25" stroke-linejoin="round" stroke-linecap="round"/>
<polyline points="272.8,265.3 276.0,266.5 280.0,264.0 281.7,262.0 283.2,245.0 285.0,225.0 288.2,205.0 290.1,190.3 293.9,181.5 297.7,177.7 304.0,174.9 310.4,173.6 318.0,173.6 320.5,175.8 324.3,175.0 335.0,175.2 343.9,173.6 348.0,175.4 367.9,175.4 373.0,179.6 376.8,182.7 379.3,189.0 381.8,197.9 384.4,199.2 386.9,205.0 390.7,215.0 396.4,222.6 405.9,233.0 413.5,233.0 418.2,235.9 420.1,241.6 423.0,245.4 425.8,250.1 427.7,252.0 430.6,250.1" fill="none" stroke="#151515" stroke-width="1.25" stroke-linejoin="round" stroke-linecap="round"/>
<text x="301.3" y="237.3" font-size="7.2" font-weight="bold" fill="#151515" text-anchor="end" textLength="4.9" lengthAdjust="spacingAndGlyphs" stroke="#151515" stroke-width="0.28">0</text>
<text x="304.9" y="237.3" font-size="7.2" font-weight="bold" fill="#151515" text-anchor="start" textLength="3.9" lengthAdjust="spacingAndGlyphs" stroke="#151515" stroke-width="0.28">s</text>
<text x="303.0" y="246.65" font-size="7.2" font-weight="bold" fill="#a67c4e" text-anchor="end" textLength="9.4" lengthAdjust="spacingAndGlyphs" stroke="#a67c4e" stroke-width="0.28">10</text>
<text x="304.9" y="246.65" font-size="7.2" font-weight="bold" fill="#a67c4e" text-anchor="start" textLength="3.9" lengthAdjust="spacingAndGlyphs" stroke="#a67c4e" stroke-width="0.28">s</text>
<text x="303.0" y="256.0" font-size="7.2" font-weight="bold" fill="#ff8c1a" text-anchor="end" textLength="9.4" lengthAdjust="spacingAndGlyphs" stroke="#ff8c1a" stroke-width="0.28">15</text>
<text x="304.9" y="256.0" font-size="7.2" font-weight="bold" fill="#ff8c1a" text-anchor="start" textLength="3.9" lengthAdjust="spacingAndGlyphs" stroke="#ff8c1a" stroke-width="0.28">s</text>
<text x="303.0" y="265.35" font-size="7.2" font-weight="bold" fill="#ff2020" text-anchor="end" textLength="9.4" lengthAdjust="spacingAndGlyphs" stroke="#ff2020" stroke-width="0.28">20</text>
<text x="304.9" y="265.35" font-size="7.2" font-weight="bold" fill="#ff2020" text-anchor="start" textLength="3.9" lengthAdjust="spacingAndGlyphs" stroke="#ff2020" stroke-width="0.28">s</text>
<rect x="491.5" y="168.1" width="174.10000000000002" height="115.29999999999998" fill="none" stroke="#1c1c1c" stroke-width="1.3"/>
<line x1="487.9" y1="283.40" x2="491.5" y2="283.40" stroke="#1c1c1c" stroke-width="1.2"/>
<line x1="489.3" y1="271.87" x2="491.5" y2="271.87" stroke="#1c1c1c" stroke-width="1.2"/>
<line x1="487.9" y1="260.34" x2="491.5" y2="260.34" stroke="#1c1c1c" stroke-width="1.2"/>
<line x1="489.3" y1="248.81" x2="491.5" y2="248.81" stroke="#1c1c1c" stroke-width="1.2"/>
<line x1="487.9" y1="237.28" x2="491.5" y2="237.28" stroke="#1c1c1c" stroke-width="1.2"/>
<line x1="489.3" y1="225.75" x2="491.5" y2="225.75" stroke="#1c1c1c" stroke-width="1.2"/>
<line x1="487.9" y1="214.22" x2="491.5" y2="214.22" stroke="#1c1c1c" stroke-width="1.2"/>
<line x1="489.3" y1="202.69" x2="491.5" y2="202.69" stroke="#1c1c1c" stroke-width="1.2"/>
<line x1="487.9" y1="191.16" x2="491.5" y2="191.16" stroke="#1c1c1c" stroke-width="1.2"/>
<line x1="489.3" y1="179.63" x2="491.5" y2="179.63" stroke="#1c1c1c" stroke-width="1.2"/>
<line x1="487.9" y1="168.10" x2="491.5" y2="168.10" stroke="#1c1c1c" stroke-width="1.2"/>
<line x1="507.28" y1="283.4" x2="507.28" y2="285.59999999999997" stroke="#1c1c1c" stroke-width="1.2"/>
<line x1="523.06" y1="283.4" x2="523.06" y2="286.79999999999995" stroke="#1c1c1c" stroke-width="1.2"/>
<line x1="538.84" y1="283.4" x2="538.84" y2="285.59999999999997" stroke="#1c1c1c" stroke-width="1.2"/>
<line x1="554.62" y1="283.4" x2="554.62" y2="286.79999999999995" stroke="#1c1c1c" stroke-width="1.2"/>
<line x1="570.40" y1="283.4" x2="570.40" y2="285.59999999999997" stroke="#1c1c1c" stroke-width="1.2"/>
<line x1="586.18" y1="283.4" x2="586.18" y2="286.79999999999995" stroke="#1c1c1c" stroke-width="1.2"/>
<line x1="601.96" y1="283.4" x2="601.96" y2="285.59999999999997" stroke="#1c1c1c" stroke-width="1.2"/>
<line x1="617.74" y1="283.4" x2="617.74" y2="286.79999999999995" stroke="#1c1c1c" stroke-width="1.2"/>
<line x1="633.52" y1="283.4" x2="633.52" y2="285.59999999999997" stroke="#1c1c1c" stroke-width="1.2"/>
<line x1="649.30" y1="283.4" x2="649.30" y2="286.79999999999995" stroke="#1c1c1c" stroke-width="1.2"/>
<line x1="665.08" y1="283.4" x2="665.08" y2="285.59999999999997" stroke="#1c1c1c" stroke-width="1.2"/>
<line x1="665.6" y1="283.4" x2="665.6" y2="286.79999999999995" stroke="#1c1c1c" stroke-width="1.2"/>
<text x="486.7" y="286.29999999999995" font-size="8.2" font-weight="bold" fill="#111" text-anchor="end" stroke="#111" stroke-width="0.28">0.0</text>
<text x="486.7" y="263.23999999999995" font-size="8.2" font-weight="bold" fill="#111" text-anchor="end" stroke="#111" stroke-width="0.28">0.2</text>
<text x="486.7" y="240.17999999999998" font-size="8.2" font-weight="bold" fill="#111" text-anchor="end" stroke="#111" stroke-width="0.28">0.4</text>
<text x="486.7" y="217.11999999999998" font-size="8.2" font-weight="bold" fill="#111" text-anchor="end" stroke="#111" stroke-width="0.28">0.6</text>
<text x="486.7" y="194.05999999999997" font-size="8.2" font-weight="bold" fill="#111" text-anchor="end" stroke="#111" stroke-width="0.28">0.8</text>
<text x="486.7" y="171.0" font-size="8.2" font-weight="bold" fill="#111" text-anchor="end" stroke="#111" stroke-width="0.28">1.0</text>
<text x="491.5" y="296.7" font-size="8.2" font-weight="bold" fill="#111" text-anchor="middle" stroke="#111" stroke-width="0.28">120</text>
<text x="523.06" y="296.7" font-size="8.2" font-weight="bold" fill="#111" text-anchor="middle" stroke="#111" stroke-width="0.28">100</text>
<text x="554.62" y="296.7" font-size="8.2" font-weight="bold" fill="#111" text-anchor="middle" stroke="#111" stroke-width="0.28">80</text>
<text x="586.1800000000001" y="296.7" font-size="8.2" font-weight="bold" fill="#111" text-anchor="middle" stroke="#111" stroke-width="0.28">60</text>
<text x="617.74" y="296.7" font-size="8.2" font-weight="bold" fill="#111" text-anchor="middle" stroke="#111" stroke-width="0.28">40</text>
<text x="649.3" y="296.7" font-size="8.2" font-weight="bold" fill="#111" text-anchor="middle" stroke="#111" stroke-width="0.28">20</text>
<text x="665.6" y="296.7" font-size="8.2" font-weight="bold" fill="#111" text-anchor="middle" stroke="#111" stroke-width="0.28">0</text>
<text x="578.55" y="311.8" font-size="9.5" font-weight="bold" fill="#111" text-anchor="middle" textLength="59.3" lengthAdjust="spacingAndGlyphs" stroke="#111" stroke-width="0.28">Y Axis (pixel)</text>
<text transform="translate(467.3,225.4) rotate(-90)" font-size="9.8" font-weight="bold" fill="#141414" text-anchor="middle" textLength="91.8" lengthAdjust="spacingAndGlyphs">Normalized Intensity</text>
<polyline points="500.5,267.5 504.0,271.0 509.2,274.1 510.3,266.0 510.5,262.4 511.4,254.6 512.4,243.2 513.0,236.4 513.7,217.7 514.7,196.4 516.1,191.7 518.5,190.5 518.9,188.2 521.3,183.4 523.7,179.9 527.2,177.0 533.1,176.3 539.0,175.6 550.0,176.0 570.0,176.4 592.8,181.1 600.4,187.8 608.0,198.2 613.7,201.1 621.3,207.7 628.9,216.3 633.2,223.7 641.5,230.9 649.8,232.0 652.2,241.5 653.3,248.7 658.1,242.7" fill="none" stroke="#1fd39a" stroke-width="1.25" stroke-linejoin="round" stroke-linecap="round"/>
<polyline points="500.5,268.5 504.0,271.0 508.8,273.5 510.2,266.0 510.5,262.6 511.4,254.8 512.4,243.4 513.0,236.6 513.7,217.9 514.7,196.6 516.1,191.9 518.5,190.7 518.9,188.4 521.3,183.6 523.7,180.1 527.2,177.2 533.1,176.5 539.0,175.8 550.0,176.5 570.0,177.3 592.8,180.2 602.3,184.9 609.9,188.7 617.5,190.6 623.2,195.4 627.0,199.2 630.0,199.5 636.7,207.1 647.4,208.3 650.5,214.2 652.0,235.0 653.3,249.8 655.0,247.0" fill="none" stroke="#2b86ad" stroke-width="1.25" stroke-linejoin="round" stroke-linecap="round"/>
<polyline points="500.7,269.9 503.5,270.6 508.5,273.0 510.3,266.0 510.5,263.0 511.4,255.2 512.4,243.8 513.0,237.0 513.7,218.3 514.7,197.0 516.1,192.3 518.5,191.1 518.9,188.8 521.3,184.0 523.7,180.5 527.2,177.6 533.1,176.9 539.0,176.2 550.0,177.0 570.0,178.3 575.7,177.3 592.8,179.2 606.1,184.0 611.8,185.9 617.5,184.0 623.2,186.8 627.0,189.7 630.0,190.0 634.6,197.0 643.2,197.0 647.9,198.9 649.3,205.6 650.5,225.0 652.9,249.8" fill="none" stroke="#1c1cff" stroke-width="1.25" stroke-linejoin="round" stroke-linecap="round"/>
<polyline points="500.0,265.6 504.0,269.0 508.5,272.7 509.9,265.6 510.5,262.0 511.4,254.2 512.4,242.8 513.0,236.0 513.7,217.3 514.7,196.0 516.1,191.3 518.5,190.1 518.9,187.8 521.3,183.0 523.7,179.5 527.2,176.6 533.1,175.9 539.0,175.2 550.0,175.6 560.0,175.2 570.0,175.4 574.7,173.5 581.4,174.9 588.0,175.4 592.8,180.2 596.6,186.8 600.4,195.4 604.2,201.1 607.0,212.5 609.9,223.9 611.8,230.9 615.4,241.5 622.5,240.8 629.6,243.9 636.7,249.8 641.5,251.7 648.6,251.0 653.3,253.4 658.1,249.8" fill="none" stroke="#151515" stroke-width="1.25" stroke-linejoin="round" stroke-linecap="round"/>
<text x="531.5" y="237.3" font-size="7.2" font-weight="bold" fill="#151515" text-anchor="end" textLength="4.9" lengthAdjust="spacingAndGlyphs" stroke="#151515" stroke-width="0.28">0</text>
<text x="537.2" y="237.3" font-size="7.2" font-weight="bold" fill="#151515" text-anchor="start" textLength="3.9" lengthAdjust="spacingAndGlyphs" stroke="#151515" stroke-width="0.28">s</text>
<text x="536.0" y="246.65" font-size="7.2" font-weight="bold" fill="#1fd39a" text-anchor="end" textLength="13.850000000000001" lengthAdjust="spacingAndGlyphs" stroke="#1fd39a" stroke-width="0.28">200</text>
<text x="537.2" y="246.65" font-size="7.2" font-weight="bold" fill="#1fd39a" text-anchor="start" textLength="3.9" lengthAdjust="spacingAndGlyphs" stroke="#1fd39a" stroke-width="0.28">s</text>
<text x="536.0" y="256.0" font-size="7.2" font-weight="bold" fill="#2b86ad" text-anchor="end" textLength="13.850000000000001" lengthAdjust="spacingAndGlyphs" stroke="#2b86ad" stroke-width="0.28">300</text>
<text x="537.2" y="256.0" font-size="7.2" font-weight="bold" fill="#2b86ad" text-anchor="start" textLength="3.9" lengthAdjust="spacingAndGlyphs" stroke="#2b86ad" stroke-width="0.28">s</text>
<text x="536.0" y="265.35" font-size="7.2" font-weight="bold" fill="#1c1cff" text-anchor="end" textLength="13.850000000000001" lengthAdjust="spacingAndGlyphs" stroke="#1c1cff" stroke-width="0.28">450</text>
<text x="537.2" y="265.35" font-size="7.2" font-weight="bold" fill="#1c1cff" text-anchor="start" textLength="3.9" lengthAdjust="spacingAndGlyphs" stroke="#1c1cff" stroke-width="0.28">s</text>
</svg>
</body></html>
